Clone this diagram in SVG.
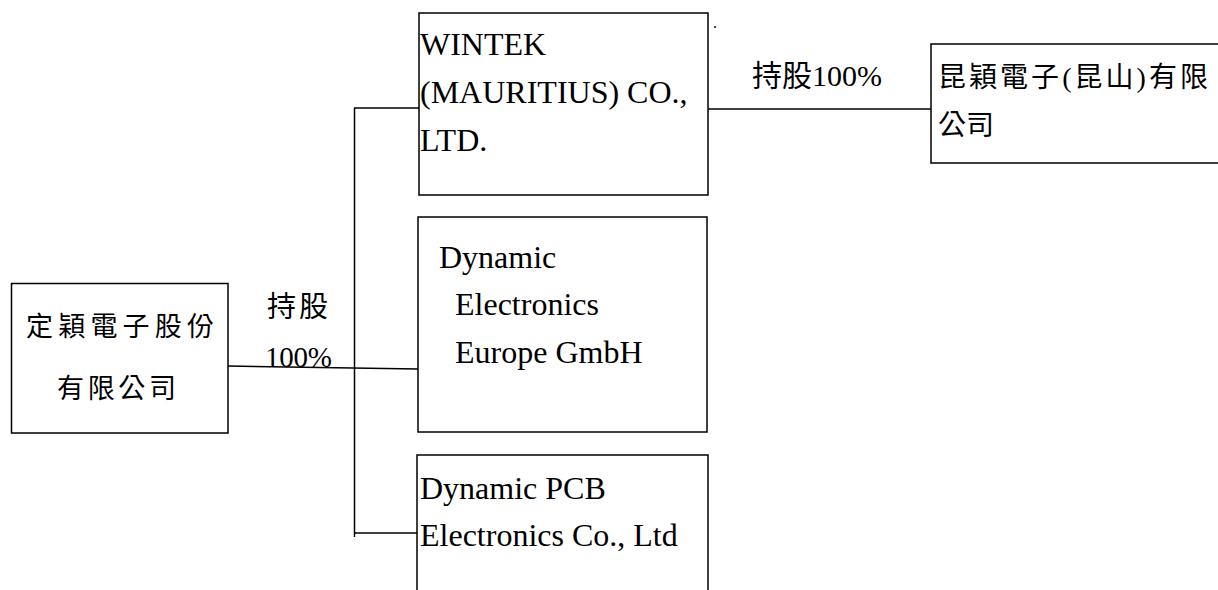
<svg xmlns="http://www.w3.org/2000/svg" width="1218" height="590" viewBox="0 0 1218 590">
<style>
.box{fill:#fff;stroke:#000;stroke-width:1.5}
.ln{fill:none;stroke:#000;stroke-width:1.5}
.t{font-family:"Liberation Serif","Noto Sans CJK TC",serif;fill:#000}
.en{font-size:32px}
</style>
<rect width="1218" height="590" fill="#fff"/>
<g id="connectors">
<path class="ln" d="M228,366 L418,369"/>
<path class="ln" d="M354.5,108 V537"/>
<path class="ln" d="M354,108 H419"/>
<path class="ln" d="M354,533 H417"/>
<path class="ln" d="M708,109 H931"/>
<text class="t" x="267" y="317" font-size="29" textLength="61" lengthAdjust="spacing">持股</text>
<text class="t" x="265" y="367" font-size="29" textLength="67" lengthAdjust="spacing">100%</text>
<text class="t" x="752" y="86" font-size="30" textLength="130" lengthAdjust="spacing">持股100%</text>
</g>
<g id="parent">
<rect class="box" x="11.5" y="283.5" width="216.5" height="149.5"/>
<text class="t" x="26" y="336" font-size="27" textLength="188" lengthAdjust="spacing">定穎電子股份</text>
<text class="t" x="57" y="398" font-size="27" textLength="119" lengthAdjust="spacing">有限公司</text>
</g>
<g id="wintek">
<rect class="box" x="419" y="13" width="289" height="182"/>
<text class="t en" x="420" y="55">WINTEK</text>
<text class="t en" x="420" y="103">(MAURITIUS) CO.,</text>
<text class="t en" x="420" y="151">LTD.</text>
<text class="t" x="713" y="28" font-size="16">.</text>
</g>
<g id="europe">
<rect class="box" x="418" y="217" width="289" height="215"/>
<text class="t en" x="439" y="268">Dynamic</text>
<text class="t en" x="455" y="315">Electronics</text>
<text class="t en" x="455" y="363">Europe GmbH</text>
</g>
<g id="pcb">
<rect class="box" x="417" y="455" width="291" height="150"/>
<text class="t en" x="420" y="499">Dynamic PCB</text>
<text class="t en" x="420" y="546">Electronics Co., Ltd</text>
</g>
<g id="kunshan">
<rect class="box" x="931" y="44" width="300" height="119"/>
<text class="t" x="938" y="87" font-size="28" textLength="270" lengthAdjust="spacing">昆穎電子(昆山)有限</text>
<text class="t" x="938" y="135" font-size="28" textLength="56" lengthAdjust="spacing">公司</text>
</g>
</svg>
